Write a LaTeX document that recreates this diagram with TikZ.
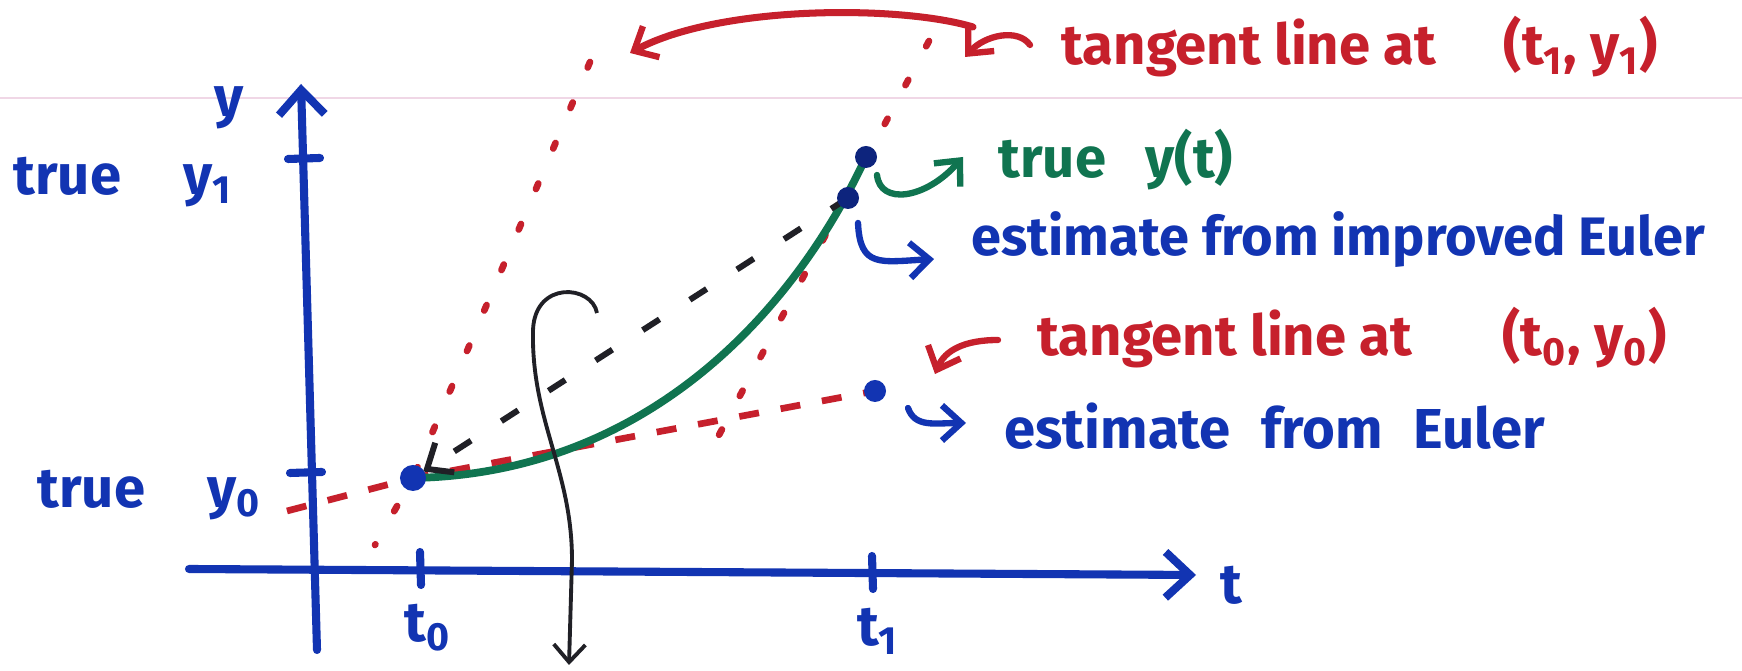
\documentclass[tikz,border=0pt]{standalone}
\usepackage{fontspec}
\setmainfont{Fira Sans}
\usetikzlibrary{arrows.meta}
\definecolor{penblue}{RGB}{18,52,178}
\definecolor{penred}{RGB}{198,32,44}
\definecolor{pengreen}{RGB}{16,116,80}
\definecolor{penblack}{RGB}{32,32,38}
\definecolor{paperline}{RGB}{240,215,230}
\begin{document}
\begin{tikzpicture}[x=0.01cm,y=-0.01cm,
  axis/.style={penblue,line width=2.3pt,line cap=round},
  tickmark/.style={penblue,line width=2.3pt,line cap=round},
  barb/.style={-{Straight Barb[length=7pt,width=13pt,line width=2.3pt]}},
  lab/.style={font=\fontsize{16}{19}\selectfont\bfseries,inner sep=0pt},
  dot/.style={circle,fill=penblue,inner sep=0pt,minimum size=0.22cm},
  reddash/.style={penred,line width=1.9pt,dash pattern=on 0.2cm off 0.22cm},
  reddot/.style={penred,line width=1.9pt,line cap=round,dash pattern=on 0.06cm off 0.38cm},
  blackdash/.style={penblack,line width=1.7pt,dash pattern=on 0.2cm off 0.36cm},
  pointer/.style={line width=1.8pt,line cap=round,-{Straight Barb[length=5.5pt,width=10pt,line width=1.8pt]}},
]
\useasboundingbox (0,0) rectangle (1742,671);
\fill[white] (0,0) rectangle (1742,671);
\draw[paperline,line width=0.8pt] (0,98) -- (1742,98);

% key points
\coordinate (P0) at (413,478);
\coordinate (P1) at (866,157);
\coordinate (PIE) at (848,198);
\coordinate (PE) at (875,391);

% axes
\coordinate (xs) at (189,569); \coordinate (xe) at (1196,575);
\coordinate (ys) at (317,650); \coordinate (ye) at (301,84);
\draw[axis,barb] (xs) -- (xe);
\draw[axis,barb] (ys) -- (ye);
\draw[tickmark] (420,552) -- (421,585);
\draw[tickmark] (872,556) -- (873,589);
\draw[tickmark] (288,159) -- (320,158);
\draw[tickmark] (290,473) -- (322,472);

% axis labels
\node[lab,penblue] (lt) at (1231,585) {t};
\node[lab,penblue] (lto) at (428,628) {t\textsubscript{0}};
\node[lab,penblue] (lti) at (878,631) {t\textsubscript{1}};
\node[lab,penblue] (ly) at (229,108) {y};
\node[lab,penblue,anchor=west] (ly1) at (13,182) {true\hspace{1.1em}y\textsubscript{1}};
\node[lab,penblue,anchor=west] (ly0) at (37,495) {true\hspace{1.1em}y\textsubscript{0}};

% tangent lines
\coordinate (r0) at (287,511);
\draw[reddash] (r0) -- (P0) -- (PE);
\coordinate (d1t) at (929,41); \coordinate (d1b) at (711,450);
\draw[reddot] (d1t) -- (d1b);
\coordinate (d2t) at (590,62); \coordinate (d2b) at (375,545);
\draw[reddot] (d2t) -- (P0) -- (d2b);

% true solution
\draw[pengreen,line width=2.2pt] (P0) .. controls (640,474) and (790,320) .. (P1);

% improved Euler step
\draw[blackdash,shorten >=0.12cm,-{Straight Barb[length=6pt,width=10pt,line width=1.7pt]}] (PIE) -- (P0);

% S-shaped arrow
\coordinate (s0) at (597,313); \coordinate (s1) at (569,665);
\draw[penblack,line width=1.1pt,-{Straight Barb[length=5pt,width=9pt,line width=1.1pt]}]
  (s0) .. controls (592,285) and (535,280) .. (533,330)
  .. controls (531,420) and (572,470) .. (572,560) -- (s1);

% dots
\node[dot,minimum size=0.26cm] (n0) at (P0) {};
\node[dot,fill=penblue!70!black] (n1) at (P1) {};
\node[dot,fill=penblue!70!black] (nie) at (PIE) {};
\node[dot] (ne) at (PE) {};

% annotation arcs
\coordinate (a0) at (973,27); \coordinate (a1) at (630,53);
\draw[penred,pointer,line width=2pt] (a0) .. controls (900,5) and (720,5) .. (a1);
\coordinate (b0) at (1030,45); \coordinate (b1) at (965,57);
\draw[penred,pointer] (b0) .. controls (1018,28) and (985,35) .. (b1);
\coordinate (g0) at (877,175); \coordinate (g1) at (963,157);
\draw[pengreen,pointer] (g0) .. controls (880,205) and (925,200) .. (g1);
\coordinate (e0) at (858,223); \coordinate (e1) at (934,259);
\draw[penblue,pointer] (e0) .. controls (860,268) and (880,262) .. (e1);
\coordinate (c0) at (998,340); \coordinate (c1) at (935,374);
\draw[penred,pointer] (c0) .. controls (965,340) and (945,350) .. (c1);
\coordinate (f0) at (908,408); \coordinate (f1) at (966,423);
\draw[penblue,pointer] (f0) .. controls (915,428) and (935,423) .. (f1);

% labels
\node[lab,penred,anchor=west] (lt1) at (1061,47) {tangent line at\hspace{1.2em}(t\textsubscript{1}, y\textsubscript{1})};
\node[lab,pengreen,anchor=west] (ltrue) at (998,160) {true\hspace{0.7em}y(t)};
\node[lab,penblue,anchor=west,font=\fontsize{15.4}{19}\selectfont\bfseries] (lie) at (971,240) {estimate from improved Euler};
\node[lab,penred,anchor=west] (lt0) at (1037,338) {tangent line at\hspace{1.6em}(t\textsubscript{0}, y\textsubscript{0})};
\node[lab,penblue,anchor=west] (le) at (1004,426) {estimate\hspace{0.55em}from\hspace{0.55em}Euler};
\end{tikzpicture}
\end{document}
